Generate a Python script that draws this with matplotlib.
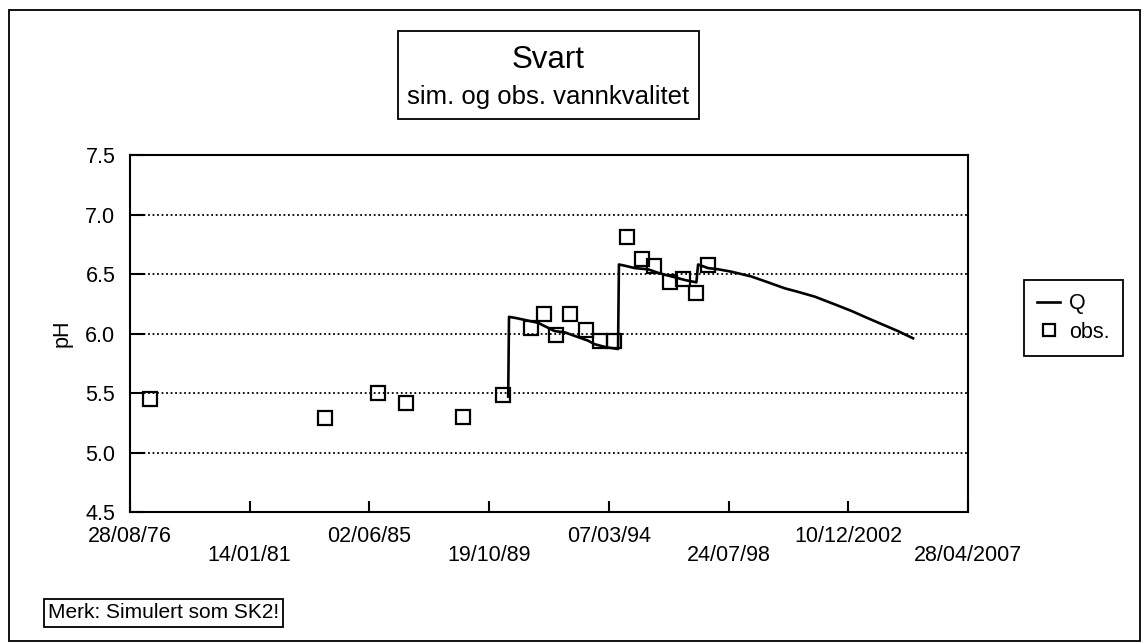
import numpy as np
import pandas as pd
import matplotlib
matplotlib.use("Agg")
import matplotlib.pyplot as plt
from matplotlib.patches import Rectangle

plt.rcParams['font.family'] = ['Liberation Sans', 'DejaVu Sans']

# simulated pH (Q)
sim_dates = ["1990-07-01", "1990-07-12", "1990-10-14", "1991-08-04", "1992-03-14",
             "1992-07-26", "1993-01-19", "1993-06-02", "1993-08-31", "1994-01-28",
             "1994-07-08", "1994-07-20", "1994-10-06", "1995-02-16", "1995-08-13",
             "1995-12-25", "1996-06-20", "1996-12-16", "1997-05-20", "1997-06-12",
             "1997-10-23", "1998-03-06", "1998-08-27", "1999-05-21", "1999-11-20",
             "2000-08-13", "2001-02-07", "2001-09-18", "2002-06-13", "2003-01-21",
             "2003-07-19", "2004-02-26", "2004-10-06", "2005-04-24"]
sim_ph = [5.47, 6.14, 6.13, 6.09, 6.02, 6.01, 5.97, 5.94, 5.91, 5.885,
          5.87, 6.58, 6.57, 6.55, 6.54, 6.51, 6.48, 6.45, 6.43, 6.58,
          6.55, 6.54, 6.52, 6.48, 6.44, 6.38, 6.35, 6.31, 6.245, 6.19,
          6.14, 6.08, 6.02, 5.96]

# observed pH
obs_dates = ["1977-05-20", "1983-10-17", "1985-09-26", "1986-10-05", "1988-11-01",
             "1990-04-23", "1991-04-28", "1991-10-27", "1992-03-31", "1992-10-09",
             "1993-05-10", "1993-11-14", "1994-05-16", "1994-11-01", "1995-05-29",
             "1995-11-05", "1996-06-06", "1996-11-23", "1997-05-16", "1997-10-27"]
obs_ph = [5.45, 5.29, 5.50, 5.42, 5.30, 5.48, 6.05, 6.16, 5.99, 6.16,
          6.03, 5.94, 5.94, 6.81, 6.63, 6.57, 6.43, 6.46, 6.34, 6.58]

tick_dates = ["1976-08-28", "1981-01-14", "1985-06-02", "1989-10-19",
              "1994-03-07", "1998-07-24", "2002-12-10", "2007-04-28"]
tick_labels = ["28/08/76", "14/01/81", "02/06/85", "19/10/89",
               "07/03/94", "24/07/98", "10/12/2002", "28/04/2007"]
y_ticks = [4.5, 5.0, 5.5, 6.0, 6.5, 7.0, 7.5]

sim_x = pd.to_datetime(sim_dates)
obs_x = pd.to_datetime(obs_dates)
tick_x = pd.to_datetime(tick_dates)

fs = 15.5
fig = plt.figure(figsize=(11.45, 6.43), dpi=100)
ax = fig.add_axes([0.1135, 0.2037, 0.7319, 0.5552])

ax.plot(sim_x, sim_ph, color='black', lw=1.9, label='Q')
ax.plot(obs_x, obs_ph, ls='none', marker='s', ms=9.5, mfc='none',
        mec='black', mew=1.6, label='obs.')

ax.set_xlim(tick_x[0], tick_x[-1])
ax.set_ylim(4.5, 7.5)
ax.set_yticks(y_ticks)
ax.set_yticklabels([f"{v:.1f}" for v in y_ticks])
ax.set_xticks(tick_x)
ax.set_xticklabels([lab if i % 2 == 0 else "\n" + lab for i, lab in enumerate(tick_labels)])
for lab in ax.get_xticklabels():
    lab.set_linespacing(0.9)

ax.tick_params(axis='both', direction='in', labelsize=fs, width=1.5, color='black')
ax.tick_params(axis='x', length=8, pad=10)
ax.tick_params(axis='y', length=11, pad=10.5)
for sp in ax.spines.values():
    sp.set_linewidth(1.5)
ax.grid(axis='y', ls=(0, (1, 1.5)), color='black', lw=1.3)
ax.set_axisbelow(True)

ax.set_ylabel("pH", fontsize=fs)
ax.yaxis.set_label_coords(-0.068, 0.5)

leg = fig.legend(loc='center left', bbox_to_anchor=(1013 / 1145, 1 - 318 / 643),
                 fontsize=fs, frameon=True, fancybox=False, edgecolor='black',
                 handlelength=1.1, handletextpad=0.4, borderpad=0.6, labelspacing=0.35,
                 markerscale=0.85, framealpha=1)
leg.get_frame().set_linewidth(1.3)

# title box
fig.patches.append(Rectangle((398 / 1145, 1 - 119 / 643), 301 / 1145, 88 / 643,
                             transform=fig.transFigure, fill=False, ec='black', lw=1.3))
fig.text(0.4786, 1 - 60 / 643, "Svart", ha='center', va='center', fontsize=22.5)
fig.text(0.4786, 1 - 97 / 643, "sim. og obs. vannkvalitet", ha='center', va='center', fontsize=18.5)

# note box
fig.text(48 / 1145, 1 - 613 / 643, "Merk: Simulert som SK2!", ha='left', va='center',
         fontsize=15, bbox=dict(boxstyle='square,pad=0.2', fc='white', ec='black', lw=1.3))

# outer border
fig.patches.append(Rectangle((9 / 1145, 2 / 643), 1131 / 1145, 631 / 643,
                             transform=fig.transFigure, fill=False, ec='black', lw=1.3))

fig.savefig("out.png", dpi=100)
